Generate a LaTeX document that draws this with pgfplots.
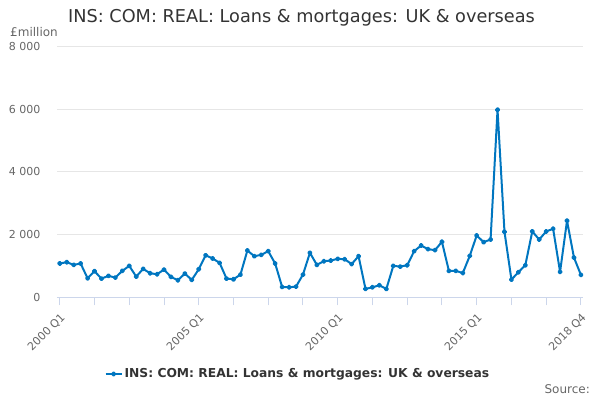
\documentclass[border=0pt]{standalone}
\usepackage{pgfplots}
\pgfplotsset{compat=1.18}
\usepackage{pgfplotstable}
\usepackage{fontspec}
\setmainfont{DejaVu Sans}
\definecolor{onsblue}{RGB}{0,118,192}
\definecolor{axisblue}{HTML}{CCD6EB}
\definecolor{gridgray}{HTML}{E6E6E6}
\definecolor{txtgray}{HTML}{666666}
\definecolor{titlegray}{HTML}{333333}
\pgfplotstableread{
x y
0 1080
1 1120
2 1035
3 1078
4 608
5 832
6 597
7 683
8 630
9 843
10 1003
11 661
12 907
13 768
14 736
15 885
16 651
17 544
18 757
19 555
20 896
21 1340
22 1240
23 1099
24 597
25 576
26 725
27 1493
28 1312
29 1355
30 1472
31 1077
32 331
33 320
34 341
35 725
36 1419
37 1035
38 1152
39 1173
40 1227
41 1216
42 1060
43 1312
44 267
45 320
46 384
47 267
48 1003
49 981
50 1024
51 1472
52 1653
53 1536
54 1504
55 1771
56 843
57 843
58 775
59 1320
60 1973
61 1760
62 1845
63 5984
64 2091
65 565
66 800
67 1024
68 2101
69 1845
70 2101
71 2187
72 811
73 2443
74 1269
75 715
}\datatable
\begin{document}
\begin{tikzpicture}
\path[use as bounding box] (0pt,0pt) rectangle (600pt,400pt);
\node[anchor=center, text=titlegray, font=\fontsize{17.7}{21}\selectfont] at (301.5pt,382pt) {INS: COM: REAL: Loans \& mortgages: UK \& overseas};
\node[anchor=west, text=txtgray, font=\fontsize{12}{14}\selectfont, inner sep=0pt] at (10pt,368pt) {£million};
\node[anchor=east, text=txtgray, font=\fontsize{12}{14}\selectfont, inner sep=0pt] at (590pt,11pt) {Source:};
\begin{axis}[
  at={(57pt,102.7pt)}, anchor=south west,
  scale only axis, width=526pt, height=250.7pt,
  xmin=-0.4, xmax=75.3, ymin=0, ymax=8000,
  axis x line*=bottom, axis y line*=left,
  y axis line style={draw=none},
  x axis line style={color=axisblue, line width=1pt},
  xtick={0,20,40,60,75},
  xticklabels={2000 Q1,2005 Q1,2010 Q1,2015 Q1,2018 Q4},
  minor xtick={5,10,15,25,30,35,45,50,55,65,70},
  xtick align=outside,
  xtick style={color=axisblue, line width=1pt},
  major tick length=8pt, minor tick length=8pt,
  xticklabel style={rotate=45, anchor=east, text=txtgray, font=\fontsize{11}{13}\selectfont, inner sep=1pt, yshift=-10pt, xshift=-4pt},
  ytick={0,2000,4000,6000,8000},
  yticklabels={0,2 000,4 000,6 000,8 000},
  ytick style={draw=none},
  yticklabel style={text=txtgray, font=\fontsize{11}{13}\selectfont, xshift=-13pt},
  ymajorgrids, grid style={color=gridgray, line width=1pt},
  /pgf/number format/assume math mode=true,
  legend style={at={(axis description cs:0.458,-0.306)}, anchor=center, draw=none, fill=none,
    font=\bfseries\fontsize{12.3}{14}\selectfont, text=titlegray},
  legend image code/.code={\draw[#1, line width=2pt] (0pt,0pt) -- (16pt,0pt); \draw[#1, mark=*, mark size=1.6pt, only marks] plot coordinates {(8pt,0pt)};},
  clip=false,
]
\addplot[color=onsblue, line width=2pt, mark=*, mark size=1.6pt, line join=round] table[x=x,y=y] {\datatable};
\addlegendentry{INS: COM: REAL: Loans \& mortgages: UK \& overseas}
\end{axis}
\end{tikzpicture}
\end{document}
